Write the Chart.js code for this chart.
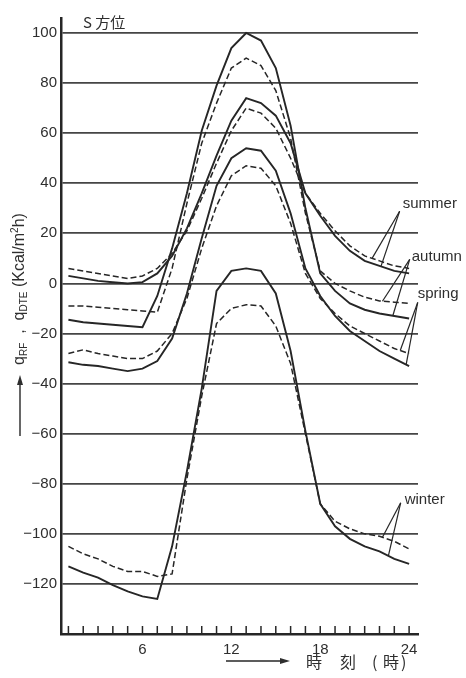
<!DOCTYPE html>
<html><head><meta charset="utf-8">
<script src="https://cdn.jsdelivr.net/npm/chart.js@4.4.1/dist/chart.umd.min.js"></script>
<style>html,body{margin:0;padding:0;background:#fff;}#wrap{width:466px;height:678px;}</style>
</head><body><div id="wrap"><canvas id="c" width="466" height="678"></canvas></div>
<script>
// ---- data ----
const hours = [1,2,3,4,5,6,7,8,9,10,11,12,13,14,15,16,17,18,19,20,21,22,23,24];
const summerSolid  = [3,2,1,0.5,0,0.5,4,11,22,36,51,65,74,72,67,56,36,27,19,13,9,7,5,4];
const summerDashed = [6,5,4,3,2,3,6,12,21,34,48,61,70,68,62,50,36,28,21,15,11,9,7,6];
const autumnSolid  = [-14.5,-15.5,-16,-16.5,-17,-17.5,-5,14,36,61,79,94,100,97,86,63,30,4,-3,-8,-10.5,-12,-13,-14];
const autumnDashed = [-9,-9,-9.5,-10,-10.5,-11,-11.5,6,32,56,72,86,90,87,77,58,28,5,0,-3,-5.5,-7,-7.5,-8];
const springSolid  = [-31.5,-32.5,-33,-34,-35,-34,-31,-22,-4,18,39,50,54,53,45,28,6,-5,-13,-19,-23,-27,-30,-33];
const springDashed = [-28,-26.5,-28,-29,-30,-30,-27,-20,-6,14,31,43,47,46,39,24,4,-6,-12,-17,-20,-23,-26,-28];
const winterSolid  = [-113,-115.5,-117.5,-120.5,-123,-125,-126,-105,-75,-42,-3,5,6,5,-4,-27,-59,-88,-97,-102,-105,-107,-110,-112];
const winterDashed = [-105,-108,-110,-113,-115,-115,-117,-116,-78,-45,-16,-10,-8.5,-9,-17,-32,-60,-88,-95,-98,-100,-101,-103,-106];

const yTickValues = [-120,-100,-80,-60,-40,-20,0,20,40,60,80,100];
const xLabelHours = [6,12,18,24];

const seasonNames   = ['summer','autumn','spring','winter'];
const seasonPairs   = [[summerDashed,summerSolid],[autumnDashed,autumnSolid],[springDashed,springSolid],[winterDashed,winterSolid]];
const seasonTextAt  = [[23.57,31.6],[24.18,10.8],[24.58,-4],[23.7,-86.4]];
const pointerFrom   = [[23.36,28.8],[24.04,9.6],[24.58,-7.6],[23.43,-87.6]];
const pointerHours  = [[21.5,22.1],[22.2,22.9],[23.4,23.8],[22.2,22.6]];

// ---- helpers ----
const ink = '#262626';
function valueAt(arr, h){
  const i = Math.min(Math.floor(h)-1, arr.length-2);
  const f = h - (i+1);
  return arr[i] + (arr[i+1]-arr[i])*f;
}
function ds(arr, dashed){
  return {
    data: hours.map((h,i)=>({x:h, y:arr[i]})),
    borderColor: ink, borderWidth: dashed?1.5:1.9,
    borderDash: dashed?[6,3]:[], pointRadius:0, tension:0, fill:false
  };
}

const decor = {
  id:'decor',
  afterDraw(chart){
    const ctx = chart.ctx, xs = chart.scales.x, ys = chart.scales.y, a = chart.chartArea;
    ctx.save();
    ctx.strokeStyle = ink; ctx.fillStyle = '#2e2e2e';
    // minor ticks on x axis (inside)
    ctx.lineWidth = 1.5;
    hours.forEach(h=>{
      const px = xs.getPixelForValue(h);
      ctx.beginPath(); ctx.moveTo(px, a.bottom); ctx.lineTo(px, a.bottom-8); ctx.stroke();
    });
    // title
    ctx.font = '15px "Noto Sans CJK JP"';
    ctx.textBaseline = 'middle'; ctx.textAlign = 'left';
    ctx.fillText('S 方位', a.left+22, 22);
    // season labels and pointers
    ctx.font = '15px "Liberation Sans"';
    ctx.lineWidth = 1.2;
    seasonNames.forEach((n,k)=>{
      const tx = xs.getPixelForValue(seasonTextAt[k][0]), ty = ys.getPixelForValue(seasonTextAt[k][1]);
      ctx.fillText(n, tx, ty);
      const fx = xs.getPixelForValue(pointerFrom[k][0]), fy = ys.getPixelForValue(pointerFrom[k][1]);
      pointerHours[k].forEach((h,j)=>{
        const ex = xs.getPixelForValue(h), ey = ys.getPixelForValue(valueAt(seasonPairs[k][j], h));
        ctx.beginPath(); ctx.moveTo(fx,fy); ctx.lineTo(ex,ey); ctx.stroke();
      });
    });
    // y axis title (rotated)
    ctx.save();
    ctx.translate(20, 289);
    ctx.rotate(-Math.PI/2);
    const segs = [['q',16,0],['RF',10,4],['  ,  ',16,0],['q',16,0],['DTE',10,4],[' (Kcal/m',16,0],['2',10,-5],['h)',16,0]];
    let total = 0;
    segs.forEach(s=>{ ctx.font = s[1]+'px "Liberation Sans"'; total += ctx.measureText(s[0]).width; });
    let cx = -total/2;
    ctx.textBaseline = 'middle'; ctx.textAlign='left';
    segs.forEach(s=>{ ctx.font = s[1]+'px "Liberation Sans"'; ctx.fillText(s[0], cx, s[2]); cx += ctx.measureText(s[0]).width; });
    ctx.restore();
    // y arrow
    ctx.lineWidth = 1.4;
    ctx.beginPath(); ctx.moveTo(20, 436); ctx.lineTo(20, 382); ctx.stroke();
    ctx.beginPath(); ctx.moveTo(20, 375); ctx.lineTo(17, 385); ctx.lineTo(23, 385); ctx.closePath(); ctx.fill();
    // x arrow + title
    ctx.beginPath(); ctx.moveTo(226, 661); ctx.lineTo(284, 661); ctx.stroke();
    ctx.beginPath(); ctx.moveTo(290, 661); ctx.lineTo(280, 658); ctx.lineTo(280, 664); ctx.closePath(); ctx.fill();
    ctx.font = '16px "Noto Sans CJK JP"';
    ctx.fillText('時', 306, 662);
    ctx.fillText('刻', 340, 662);
    ctx.fillText('(', 372, 662);
    ctx.fillText('時', 383, 662);
    ctx.fillText(')', 401, 662);
    ctx.restore();
  }
};

new Chart(document.getElementById('c').getContext('2d'), {
  type:'line',
  data:{datasets:[
    ds(summerSolid,false), ds(summerDashed,true),
    ds(autumnSolid,false), ds(autumnDashed,true),
    ds(springSolid,false), ds(springDashed,true),
    ds(winterSolid,false), ds(winterDashed,true)
  ]},
  options:{
    responsive:false, animation:false, events:[],
    layout:{padding:{top:18,right:48,left:0,bottom:0}},
    plugins:{legend:{display:false}, tooltip:{enabled:false}},
    scales:{
      x:{type:'linear', min:0.5, max:24.6,
        afterBuildTicks:s=>{ s.ticks = hours.map(v=>({value:v})); },
        afterFit:s=>{ s.height = 44; },
        grid:{display:false, drawTicks:false},
        border:{display:true, color:ink, width:2.5},
        ticks:{autoSkip:false, maxRotation:0, padding:7, color:'#2e2e2e',
          font:{family:'"Liberation Sans"', size:15},
          callback:v=> xLabelHours.includes(v) ? String(v) : ''}
      },
      y:{type:'linear', min:-140, max:106,
        afterBuildTicks:s=>{ s.ticks = yTickValues.map(v=>({value:v})); },
        afterFit:s=>{ s.width = 61; },
        grid:{color:'#454545', lineWidth:1.7, drawTicks:false},
        border:{display:true, color:ink, width:2.5},
        ticks:{padding:4, color:'#2e2e2e', font:{family:'"Liberation Sans"', size:15},
          callback:v=> v<0 ? '\u2212'+Math.abs(v) : String(v)}
      }
    }
  },
  plugins:[decor]
});
</script>
</body></html>
